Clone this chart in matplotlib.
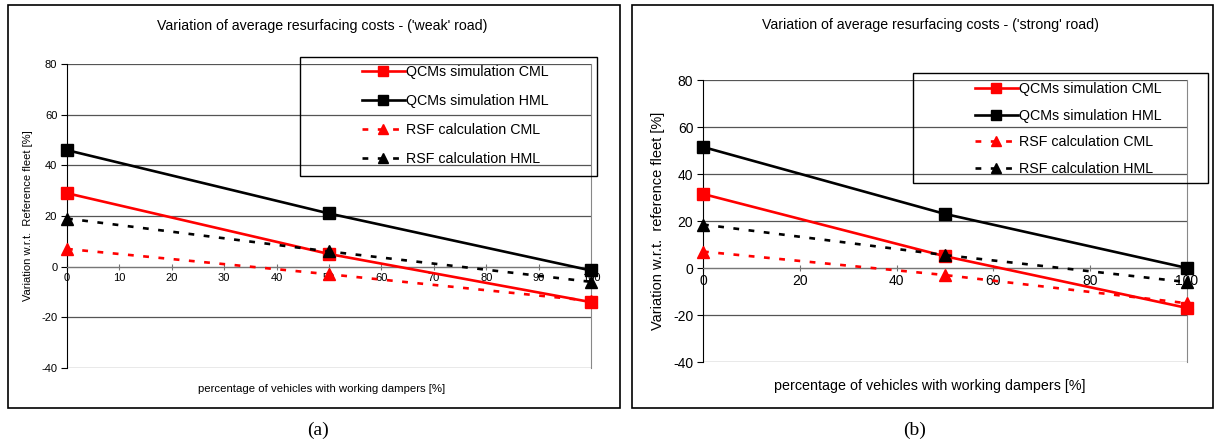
import matplotlib.pyplot as plt
from matplotlib.patches import Rectangle

plt.rcParams['font.family'] = ['Liberation Sans', 'DejaVu Sans']
plt.rcParams['axes.unicode_minus'] = False

# data
pct = [0, 50, 100]

weak_qcm_cml = [29, 5, -14]
weak_qcm_hml = [46, 21, -1.5]
weak_rsf_cml = [7, -3, -13.5]
weak_rsf_hml = [19, 6, -6]

strong_qcm_cml = [31.5, 5, -17]
strong_qcm_hml = [51.5, 23, 0]
strong_rsf_cml = [7, -3, -15]
strong_rsf_hml = [18.5, 5.5, -6]

labels = ["QCMs simulation CML", "QCMs simulation HML",
          "RSF calculation CML", "RSF calculation HML"]

W, H = 1216, 444
fig = plt.figure(figsize=(W / 100, H / 100), dpi=100)


def px_axes(x0, x1, y0, y1):
    # pixel box (top-left origin) -> axes
    return fig.add_axes([x0 / W, 1 - y1 / H, (x1 - x0) / W, (y1 - y0) / H])


def px_box(x0, x1, y0, y1, lw=1.2):
    fig.patches.append(Rectangle((x0 / W, 1 - y1 / H), (x1 - x0) / W, (y1 - y0) / H,
                                 transform=fig.transFigure, fill=False,
                                 edgecolor='black', linewidth=lw, zorder=5))


def panel(ax, series, xstep, fs_tick, fs_lab, fs_xlab, ylabel, title, title_y, xlab_y, cx, leg):
    dash = (0, (2.2, 3.6))
    styles = [
        dict(color='red', ls='-', marker='s'),
        dict(color='black', ls='-', marker='s'),
        dict(color='red', ls=dash, marker='^'),
        dict(color='black', ls=dash, marker='^'),
    ]
    handles = []
    for vals, st, lab in zip(series, styles, labels):
        h, = ax.plot(pct, vals, color=st['color'], linestyle=st['ls'], marker=st['marker'],
                     markersize=8.5, linewidth=1.9, label=lab, clip_on=False, zorder=4)
        handles.append(h)
    ax.set_xlim(0, 100)
    ax.set_ylim(-40, 80)
    ax.set_xticks(range(0, 101, xstep))
    ax.set_yticks(range(-40, 81, 20))
    ax.grid(axis='y', color='#555555', linewidth=0.9)
    ax.set_axisbelow(True)
    ax.spines['top'].set_visible(False)
    ax.spines['right'].set_color('#888888')
    ax.spines['left'].set_color('black')
    ax.spines['bottom'].set_position(('data', 0))
    ax.spines['bottom'].set_color('#777777')
    ax.tick_params(axis='x', direction='inout', length=5, labelsize=fs_tick, pad=2, color='#777777')
    ax.tick_params(axis='y', direction='out', length=4, labelsize=fs_tick, pad=3)
    ax.set_ylabel(ylabel, fontsize=fs_lab, labelpad=6)
    fig.text(cx / W, 1 - title_y / H, title, ha='center', va='center', fontsize=10.2)
    fig.text(cx / W, 1 - xlab_y / H, "percentage of vehicles with working dampers [%]",
             ha='center', va='center', fontsize=fs_xlab)
    lx0, lx1, ly0, ly1, fs_leg, sp, off = leg
    px_box(lx0, lx1, ly0, ly1, lw=1.0)
    fig.legend(handles=handles, loc='upper left', frameon=False, fontsize=fs_leg,
               bbox_to_anchor=((lx0 + 56) / W, 1 - (ly0 + off) / H), bbox_transform=fig.transFigure,
               handlelength=3.0, handletextpad=0.1, labelspacing=sp, markerscale=0.85,
               borderaxespad=0)


# panel (a)
px_box(8, 620, 5, 408)
ax1 = px_axes(67, 591, 64, 368)
panel(ax1, [weak_qcm_cml, weak_qcm_hml, weak_rsf_cml, weak_rsf_hml], 10, 8, 8, 8.2,
      "Variation w.r.t.  Reference fleet [%]",
      "Variation of average resurfacing costs - ('weak' road)", 26, 389, 322,
      (300, 597, 57, 176, 10.3, 1.05, 2))

# panel (b)
px_box(632, 1213, 5, 408)
ax2 = px_axes(703, 1187, 80, 362)
panel(ax2, [strong_qcm_cml, strong_qcm_hml, strong_rsf_cml, strong_rsf_hml], 20, 10, 10.5, 10.3,
      "Variation w.r.t.  reference fleet [%]",
      "Variation of average resurfacing costs - ('strong' road)", 25, 386, 930,
      (913, 1208, 73, 183, 10.3, 0.9, 3))

fig.text(318 / W, 1 - 430 / H, "(a)", ha='center', va='center', fontsize=14, family='Liberation Serif')
fig.text(915 / W, 1 - 430 / H, "(b)", ha='center', va='center', fontsize=14, family='Liberation Serif')

fig.savefig("out.png", dpi=100)
